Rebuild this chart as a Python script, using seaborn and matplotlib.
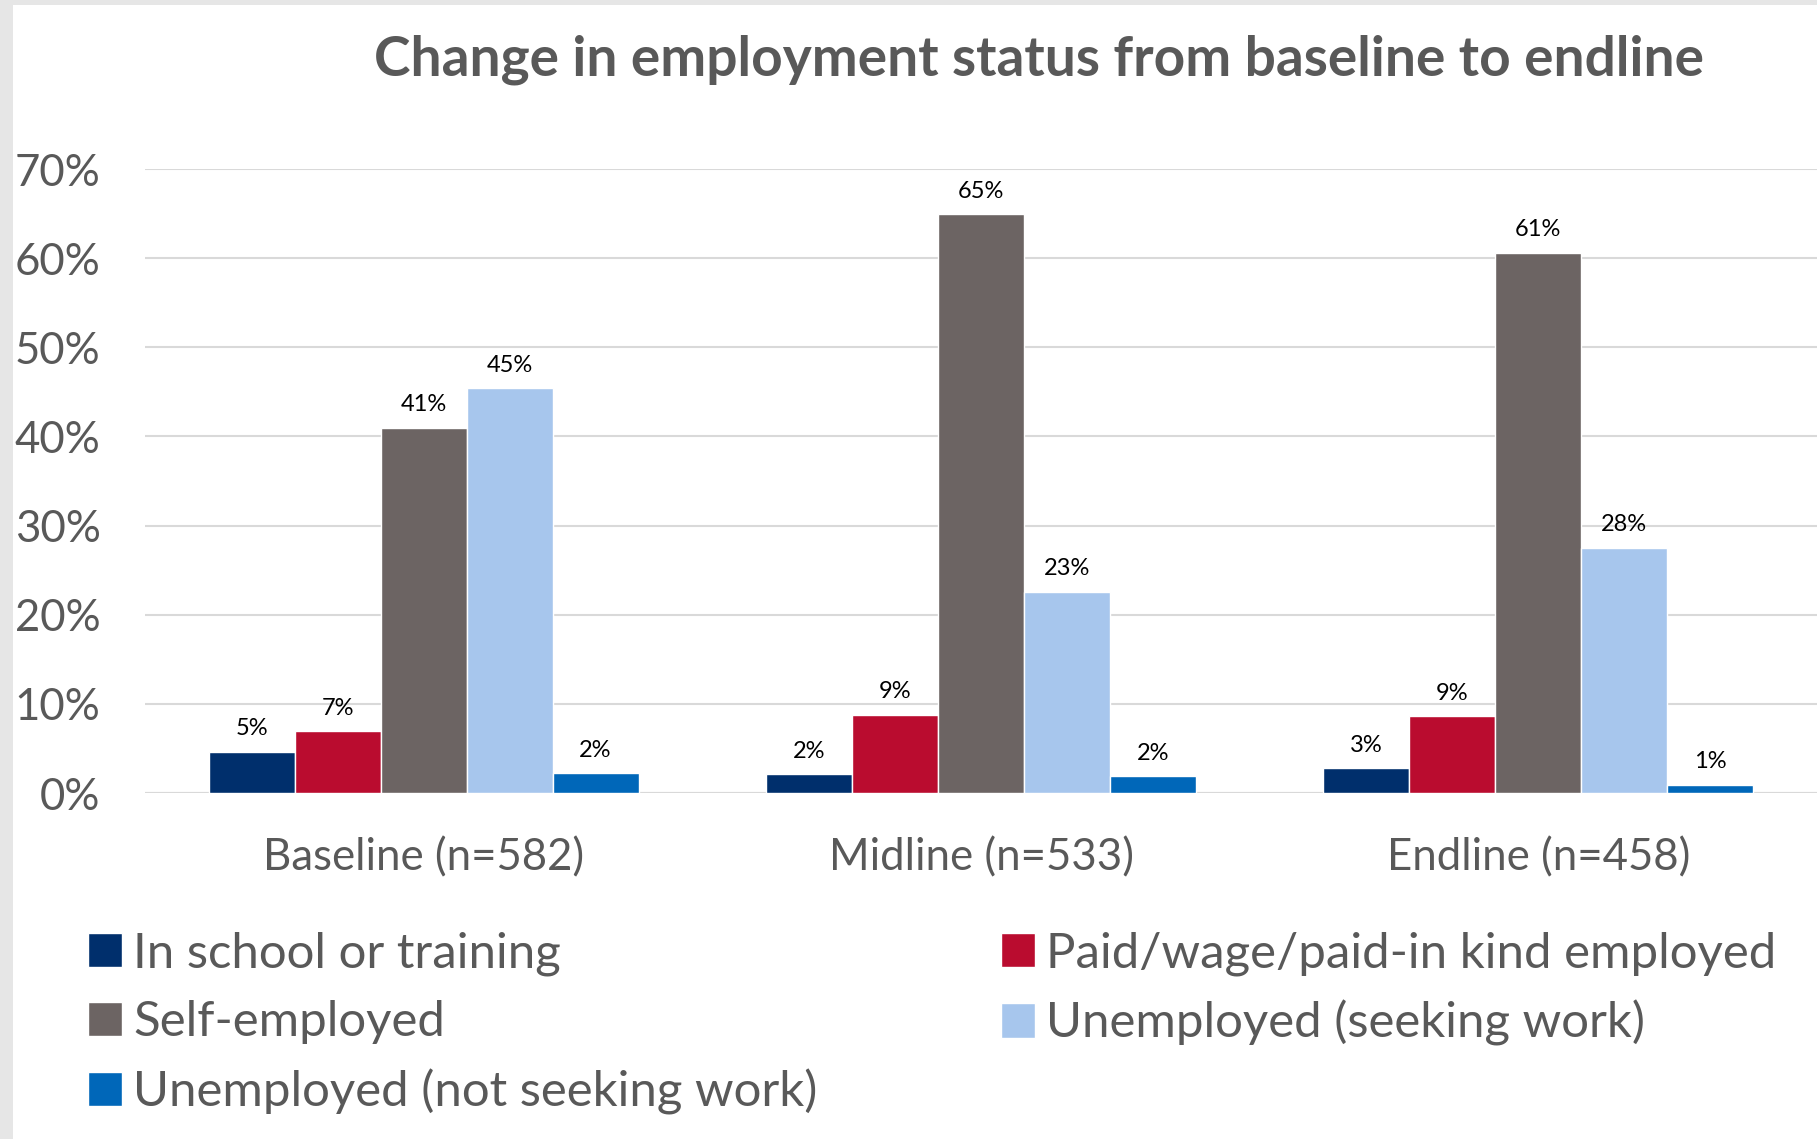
import seaborn as sns
import matplotlib.pyplot as plt
import pandas as pd
from matplotlib.patches import Rectangle

# Data (percent)
waves = ["Baseline (n=582)", "Midline (n=533)", "Endline (n=458)"]
statuses = ["In school or training", "Paid/wage/paid-in kind employed", "Self-employed",
            "Unemployed (seeking work)", "Unemployed (not seeking work)"]
in_school = [4.6, 2.1, 2.8]
paid = [6.9, 8.8, 8.6]
self_employed = [41.0, 64.9, 60.6]
seeking = [45.4, 22.6, 27.5]
not_seeking = [2.2, 1.9, 0.9]
colors = ["#002F6C", "#BA0C2F", "#6C6463", "#A7C6ED", "#0067B9"]

series = [in_school, paid, self_employed, seeking, not_seeking]
rows = []
for st, vals in zip(statuses, series):
    for w, v in zip(waves, vals):
        rows.append({"wave": w, "status": st, "value": v})
df = pd.DataFrame(rows)

sns.set_style("white")
plt.rcParams["font.family"] = ["Lato", "DejaVu Sans"]

W, H = 1817, 1139
fig = plt.figure(figsize=(W / 100, H / 100), dpi=100, facecolor="#E6E6E6")
fig.patches.append(Rectangle((13 / W, 0), 1, 1 - 5 / H, transform=fig.transFigure,
                             facecolor="white", edgecolor="none", zorder=-5))
ax = fig.add_axes([145 / W, 1 - 793 / H, 1 - 145 / W, (793 - 169) / H])

sns.barplot(data=df, x="wave", y="value", hue="status", order=waves, hue_order=statuses,
            palette=colors, saturation=1, width=0.771, ax=ax, legend=True)

ax.set_xlim(-0.5, 2.5)
ax.set_ylim(0, 70)
ax.set_yticks(range(0, 71, 10))
ax.set_yticklabels([f"{t}%" for t in range(0, 71, 10)])
ax.yaxis.grid(True, color="#D9D9D9", linewidth=1.5)
ax.set_axisbelow(True)
for s in ax.spines.values():
    s.set_visible(False)
ax.axhline(0, color="#D9D9D9", linewidth=1.5, zorder=0.5)
ax.set_xlabel("")
ax.set_ylabel("")
ax.tick_params(axis="both", length=0, labelcolor="#595959", labelsize=31.5)
ax.tick_params(axis="x", pad=32)
ax.tick_params(axis="y", pad=32)

for cont in ax.containers:
    ax.bar_label(cont, labels=[f"{round(b.get_height())}%" for b in cont],
                 padding=9, fontsize=17, color="black")

handles, labels = ax.get_legend_handles_labels()
ax.get_legend().remove()

fig.text(1039 / W, 1 - 60 / H, "Change in employment status from baseline to endline",
         ha="center", va="center", fontsize=39.6, fontweight="bold", color="#595959")

leg_kw = dict(frameon=False, fontsize=35.4, handlelength=0.7, handleheight=0.7,
              handletextpad=0.22, labelspacing=0.5, borderpad=0, borderaxespad=0,
              labelcolor="#595959", loc="upper left")
fig.legend([handles[0], handles[2], handles[4]], [labels[0], labels[2], labels[4]],
           bbox_to_anchor=(88 / W, 1 - 931 / H), **leg_kw)
fig.legend([handles[1], handles[3]], [labels[1], labels[3]],
           bbox_to_anchor=(1001 / W, 1 - 931 / H), **leg_kw)

fig.savefig("out.png", dpi=100, facecolor=fig.get_facecolor())
